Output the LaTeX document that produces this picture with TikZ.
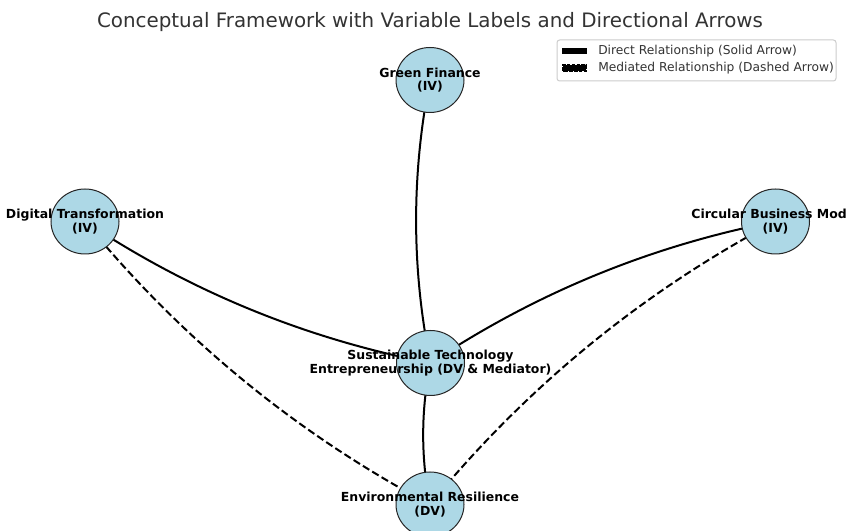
\documentclass[tikz,border=0pt]{standalone}
\usepackage{fontspec}
\setmainfont{DejaVu Sans}
\usetikzlibrary{shapes.geometric,calc,backgrounds}
\definecolor{nodeblue}{RGB}{173,216,230}
\definecolor{titlegray}{RGB}{51,51,51}
\definecolor{framegray}{RGB}{204,204,204}
\tikzset{
 var/.style={ellipse, draw=black!85, line width=0.75pt, fill=nodeblue, minimum width=51pt, minimum height=48.75pt, inner sep=0pt},
 varlabel/.style={align=center, font=\bfseries\fontsize{9.35}{10.2}\selectfont, text=black, inner sep=0pt},
 direct/.style={line width=1.5pt, black},
 mediated/.style={line width=1.5pt, black, dash pattern=on 5.6pt off 2.6pt},
 legtext/.style={anchor=west, font=\fontsize{9.2}{11}\selectfont, text=titlegray, inner sep=0pt},
 legframe/.style={draw=framegray, line width=0.75pt, fill=white, rounded corners=2pt},
}
\newcommand\arcedge[3]{%
 \coordinate (m) at ($(#2.center)!0.5!(#3.center)$);
 \coordinate (c) at ($(m)!0.2!-90:(#3.center)$);
 \draw[#1] (#2.center) .. controls ($(#2.center)!2/3!(c)$) and ($(#3.center)!2/3!(c)$) .. (#3.center);}
\begin{document}
\begin{tikzpicture}[x=0.75pt,y=0.75pt]
\useasboundingbox (0,0) rectangle (846,531);
\clip (0,0) rectangle (846,531);
% nodes
\node[var] (gf) at (430,451) {};
\node[var] (dt) at (85,309.5) {};
\node[var] (cbm) at (775.5,309.5) {};
\node[var] (ste) at (430.5,168) {};
\node[var] (er) at (430,26.5) {};
\node[varlabel] (gfl) at (gf) {Green Finance\\(IV)};
\node[varlabel] (dtl) at (dt) {Digital Transformation\\(IV)};
\node[varlabel] (cbml) at (cbm) {Circular Business Model\\(IV)};
\node[varlabel] (stel) at (ste) {Sustainable Technology\\Entrepreneurship (DV \& Mediator)};
\node[varlabel] (erl) at (er) {Environmental Resilience\\(DV)};
% connectors
\begin{pgfonlayer}{background}
\fill[white] (0,0) rectangle (846,531);
\arcedge{direct}{gf}{ste}
\arcedge{direct}{dt}{ste}
\arcedge{direct}{cbm}{ste}
\arcedge{direct}{ste}{er}
\arcedge{mediated}{dt}{er}
\arcedge{mediated}{cbm}{er}
\end{pgfonlayer}
% title
\node[font=\fontsize{14.9}{17}\selectfont, text=titlegray, inner sep=0pt] (title) at (430,509) {Conceptual Framework with Variable Labels and Directional Arrows};
% legend
\draw[legframe] (557,491) rectangle (836,450);
\fill[black] (562,476.8) rectangle (587,483.2);
\draw[black, fill=black, line width=1.4pt, dash pattern=on 2.6pt off 1pt] (562.7,460.3) rectangle (586.3,465.7);
\node[legtext] (leg1) at (598,480) {Direct Relationship (Solid Arrow)};
\node[legtext] (leg2) at (598,462.8) {Mediated Relationship (Dashed Arrow)};
\end{tikzpicture}
\end{document}
